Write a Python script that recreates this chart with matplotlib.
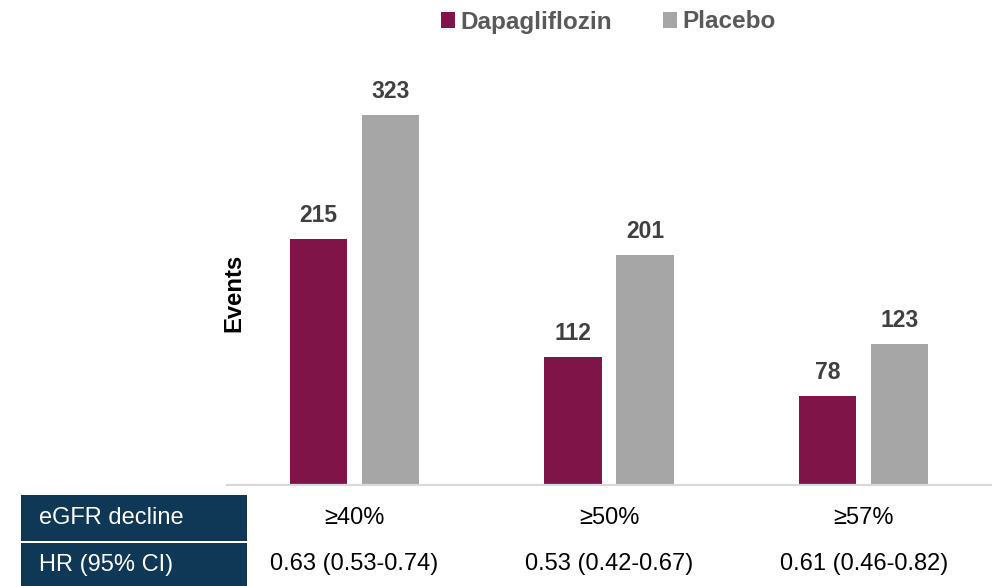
import matplotlib
matplotlib.use("Agg")
import matplotlib.pyplot as plt
from matplotlib.patches import Rectangle
from matplotlib.transforms import blended_transform_factory
import numpy as np

plt.rcParams["font.family"] = ["Liberation Sans", "DejaVu Sans"]

# Data
categories = ["≥40%", "≥50%", "≥57%"]
dapagliflozin = [215, 112, 78]
placebo = [323, 201, 123]
hr_labels = ["0.63 (0.53-0.74)", "0.53 (0.42-0.67)", "0.61 (0.46-0.82)"]
series_names = ["Dapagliflozin", "Placebo"]
row_headers = ["eGFR decline", "HR (95% CI)"]

# Style
DAPA_COLOR = "#7f1449"
PLAC_COLOR = "#a6a6a6"
NAVY = "#0f3756"
LABEL_COLOR = "#404040"

W, H = 992, 586
fig = plt.figure(figsize=(W / 100, H / 100), dpi=100)

ax_left, ax_right = 227 / W, 991 / W
ax_bottom, ax_top = (H - 485) / H, (H - 60) / H
ax = fig.add_axes([ax_left, ax_bottom, ax_right - ax_left, ax_top - ax_bottom])

x = np.arange(len(categories))
width = 0.224
offset = 0.1414

b1 = ax.bar(x - offset, dapagliflozin, width, color=DAPA_COLOR, label=series_names[0])
b2 = ax.bar(x + offset, placebo, width, color=PLAC_COLOR, label=series_names[1])

for bars, vals in ((b1, dapagliflozin), (b2, placebo)):
    for rect, v in zip(bars, vals):
        ax.annotate(f"{v}", (rect.get_x() + rect.get_width() / 2, v),
                    xytext=(0, 12), textcoords="offset points",
                    ha="center", va="baseline", fontsize=16.5,
                    fontweight="bold", color=LABEL_COLOR)

ax.set_xlim(-0.5, 2.5)
ax.set_ylim(0, 371)
for s in ("top", "right", "left"):
    ax.spines[s].set_visible(False)
ax.spines["bottom"].set_color("#d9d9d9")
ax.spines["bottom"].set_linewidth(1.6)
ax.set_xticks([])
ax.set_yticks([])
ax.patch.set_alpha(0)

fig.text(234 / W, 1 - 293 / H, "Events", rotation=90, ha="center", va="center",
         fontsize=17.2, fontweight="bold", color="black")

# Legend across the top
leg = fig.legend(handles=[b1, b2], labels=series_names, loc="center",
                 bbox_to_anchor=(608 / W, 1 - 22 / H), ncol=2, frameon=False,
                 fontsize=17.5, handlelength=0.6, handleheight=0.6,
                 handletextpad=0.2, columnspacing=2.1, borderaxespad=0)
for t in leg.get_texts():
    t.set_color("#595959")
    t.set_fontweight("bold")

# Table rows beneath the bars
rows = [(495, 541), (543, 586)]
for (top, bot), header in zip(rows, row_headers):
    fig.patches.append(Rectangle((21 / W, 1 - bot / H), (247 - 21) / W, (bot - top) / H,
                                 transform=fig.transFigure, facecolor=NAVY,
                                 edgecolor="none", zorder=0))
    fig.text(39 / W, 1 - (top + bot) / 2 / H, header, ha="left", va="center",
             fontsize=17, color="white")

trans = blended_transform_factory(ax.transData, fig.transFigure)
for xi, cat, hr in zip(x, categories, hr_labels):
    fig.text(xi, 1 - 518 / H, cat, transform=trans, ha="center", va="center",
             fontsize=17, color="black")
    fig.text(xi, 1 - 564 / H, hr, transform=trans, ha="center", va="center",
             fontsize=17, color="black")

fig.savefig("out.png", dpi=100)
